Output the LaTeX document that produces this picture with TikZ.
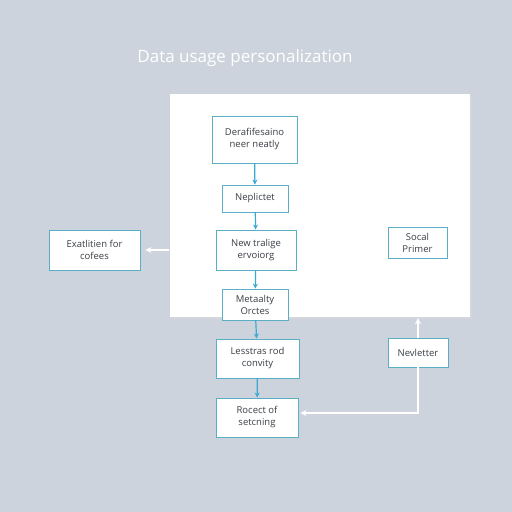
\documentclass[tikz,border=0pt]{standalone}
\usepackage{fontspec}
\setmainfont{Open Sans}
\usetikzlibrary{arrows.meta,positioning}
\definecolor{bgc}{HTML}{CDD3DC}
\definecolor{boxc}{HTML}{5AAFC6}
\definecolor{arrc}{HTML}{3AAAD2}
\definecolor{txtc}{HTML}{3A3F45}
\tikzset{
  fbox/.style={draw=boxc, line width=0.9pt, fill=white, inner sep=0pt, align=center,
    font=\fontsize{9.5}{12}\selectfont, text=txtc},
  flow/.style={draw=arrc, line width=1.2pt, -{Stealth[length=5pt,width=5pt]}},
  wflow/.style={draw=white, line width=1.6pt, -{Stealth[length=6pt,width=6pt]}},
}
\begin{document}
\begin{tikzpicture}[x=1pt,y=-1pt]
\fill[bgc] (0,0) rectangle (512,512);
\useasboundingbox (0,0) rectangle (512,512);
\fill[black!15,opacity=0.5] (171,96) rectangle (472,319);
\node[fill=white, minimum width=300pt, minimum height=223pt, inner sep=0pt] (panel) at (319.5,205.5) {};
\node[text=white, font=\fontsize{17}{20}\selectfont] (title) at (245,58) {Data usage personalization};

\node[fbox, minimum width=85pt, minimum height=47pt] (b1) at (254.5,139.5) {Derafifesaino\\neer neatly};
\node[fbox, minimum width=66pt, minimum height=27pt] (b2) at (255,198.5) {Neplictet};
\node[fbox, minimum width=80pt, minimum height=40pt] (b3) at (256,250) {New tralige\\ervoiorg};
\node[fbox, minimum width=66pt, minimum height=31pt] (b4) at (255,304.5) {Metaalty\\Orctes};
\node[fbox, minimum width=83pt, minimum height=39pt] (b5) at (257.5,358.5) {Lesstras rod\\convity};
\node[fbox, minimum width=82pt, minimum height=39pt] (b6) at (257,417.5) {Rocect of\\setcning};
\node[fbox, minimum width=91pt, minimum height=40pt] (ex) at (94.5,250) {Exatlitien for\\cofees};
\node[fbox, minimum width=59pt, minimum height=31pt] (so) at (417.5,242.5) {Socal\\Primer};
\node[fbox, minimum width=60pt, minimum height=29pt] (nl) at (418,352.5) {Nevletter};

\draw[flow] (b1) -- (b2);
\draw[flow] (b2) -- (b3);
\draw[flow] (b3) -- (b4);
\draw[flow] (b4) -- (b5);
\draw[flow] (b5) -- (b6);

\coordinate (pl) at (panel.west |- ex.east);
\draw[wflow, shorten >=5pt] (pl) -- (ex.east);
\coordinate (pb) at (nl.north |- panel.south);
\draw[wflow, shorten >=1pt] (nl.north) -- (pb);
\coordinate (corner) at (nl.south |- 0,413);
\draw[wflow, shorten >=2pt] (nl.south) -- (corner) -- (corner -| b6.east);
\end{tikzpicture}
\end{document}
